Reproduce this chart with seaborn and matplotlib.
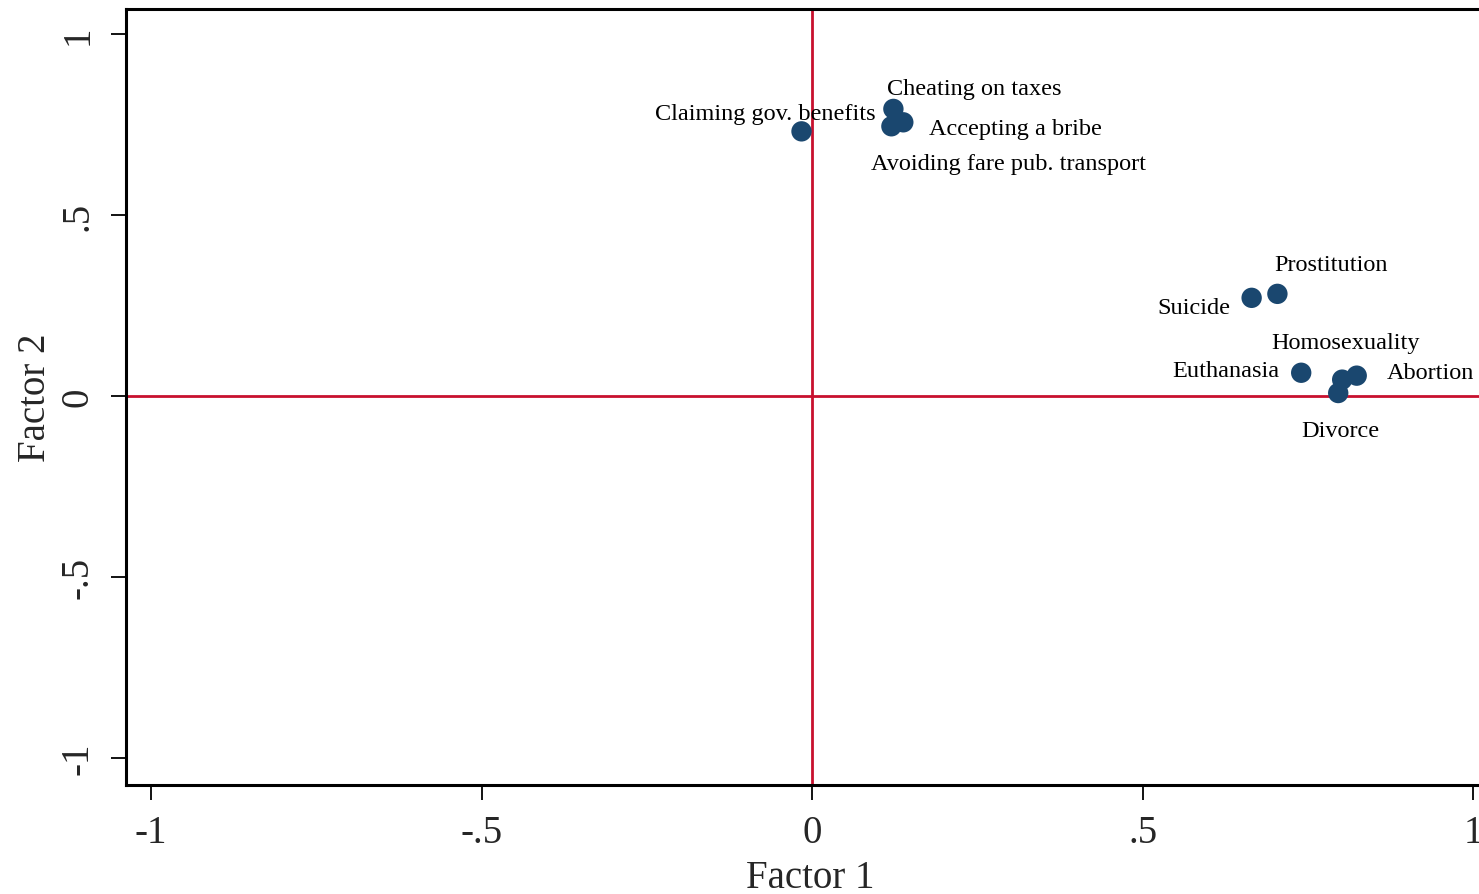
import matplotlib
matplotlib.use("Agg")
import matplotlib.pyplot as plt
import pandas as pd
import seaborn as sns

# Factor loadings of the justifiability items
items = [
    "Claiming gov. benefits",
    "Cheating on taxes",
    "Accepting a bribe",
    "Avoiding fare pub. transport",
    "Prostitution",
    "Suicide",
    "Homosexuality",
    "Euthanasia",
    "Abortion",
    "Divorce",
]
factor1 = [-0.016, 0.123, 0.138, 0.120, 0.704, 0.665, 0.802, 0.740, 0.824, 0.796]
factor2 = [0.731, 0.793, 0.756, 0.745, 0.282, 0.271, 0.045, 0.064, 0.056, 0.008]

x_ticks = [-1, -0.5, 0, 0.5, 1]
x_tick_labels = ["-1", "-.5", "0", ".5", "1"]
y_ticks = [-1, -0.5, 0, 0.5, 1]
y_tick_labels = ["-1", "-.5", "0", ".5", "1"]

# label placement: (dx, dy) in pixels relative to the marker, horizontal alignment
label_style = {
    "Claiming gov. benefits": (74, 18, "right"),
    "Cheating on taxes": (-6, 20, "left"),
    "Accepting a bribe": (26, -6, "left"),
    "Avoiding fare pub. transport": (-20, -37, "left"),
    "Prostitution": (-3, 29, "left"),
    "Suicide": (-21, -10, "right"),
    "Homosexuality": (-71, 37, "left"),
    "Euthanasia": (-22, 2, "right"),
    "Abortion": (30, 3, "left"),
    "Divorce": (-37, -37, "left"),
}

df = pd.DataFrame({"item": items, "Factor 1": factor1, "Factor 2": factor2})

sns.set_style("white")
plt.rcParams["font.family"] = ["Liberation Serif", "DejaVu Serif"]

fig = plt.figure(figsize=(14.79, 8.95), dpi=100)
ax = fig.add_axes([0.0852, 0.1218, 1 - 0.0852, 0.9888 - 0.1218])

ref_color = "#c8102e"
ax.axhline(0, color=ref_color, lw=2.0, zorder=1)
ax.axvline(0, color=ref_color, lw=2.0, zorder=1)

sns.scatterplot(data=df, x="Factor 1", y="Factor 2", ax=ax, s=215,
                color="#1a476f", edgecolor="none", zorder=3, legend=False)

for name, xv, yv in zip(items, factor1, factor2):
    dx, dy, ha = label_style[name]
    ax.annotate(name, (xv, yv), xytext=(dx, dy), textcoords="offset pixels",
                ha=ha, va="center", fontsize=17.5, color="black", zorder=4)

ax.set_xlim(-1.038, 1.009)
ax.set_ylim(-1.075, 1.069)

ax.set_xticks(x_ticks)
ax.set_xticklabels(x_tick_labels)
ax.set_yticks(y_ticks)
ax.set_yticklabels(y_tick_labels, rotation=90, va="center")

ax.tick_params(axis="both", direction="out", length=11, width=1.3,
               color="black", labelsize=28, pad=10, bottom=True, left=True)
ax.set_xlabel("Factor 1", fontsize=28)
ax.xaxis.set_label_coords(0.506, -0.096)
ax.xaxis.label.set_va("top")
ax.set_ylabel("Factor 2", fontsize=28, labelpad=4)

for side in ["left", "bottom", "top"]:
    ax.spines[side].set_color("black")
    ax.spines[side].set_linewidth(2.2)
ax.spines["right"].set_visible(False)

fig.savefig("out.png", dpi=100, facecolor="white")
